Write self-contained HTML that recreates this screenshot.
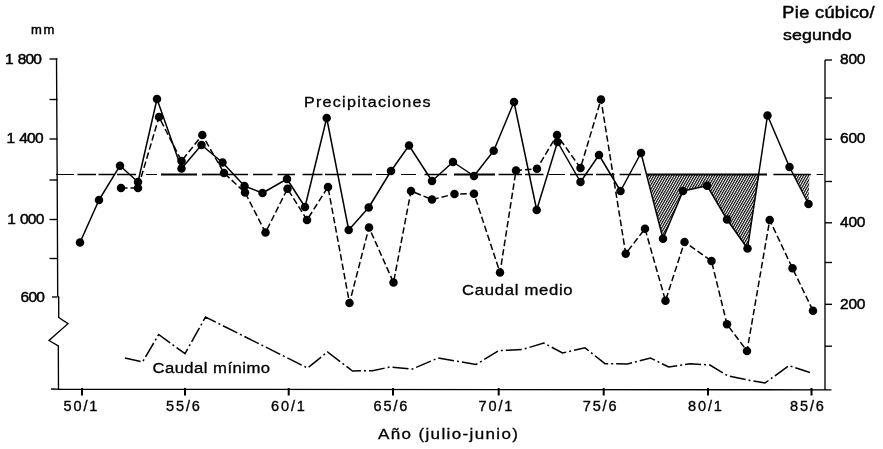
<!DOCTYPE html>
<html lang="es"><head><meta charset="utf-8"><title>Precipitaciones y caudal</title>
<style>
html,body{margin:0;padding:0;background:#fff;}
body{width:883px;height:449px;overflow:hidden;}
svg{display:block;}
text{font-family:"Liberation Sans",sans-serif;fill:#000;}
</style></head><body>
<svg width="883" height="449" viewBox="0 0 883 449">
<defs><pattern id="h" width="2.2" height="20" patternUnits="userSpaceOnUse" patternTransform="rotate(30)"><rect x="0" y="-1" width="1.15" height="22" fill="#000"/></pattern></defs>
<rect width="883" height="449" fill="#fff"/>

<polygon points="647.5,174.5 663,238.8 683,191 707,185.7 727,219.5 747.5,248.5 759.5,174.5" fill="url(#h)"/>
<polygon points="793.3,174.5 808.5,204 809.5,174.5" fill="url(#h)"/>
<g fill="none" stroke="#000" stroke-width="1.35">
<polyline points="56.5,58.3 57.2,180 57.7,296 58.7,297 58.7,317.5 68,323.7 49,340.5 58.3,346 58.5,389"/>
<polyline points="51,389 62,389.3 831.5,389.8"/>
<polyline points="825,60 825,390"/>
<line x1="49.5" y1="59" x2="57.5" y2="59"/>
<line x1="49.5" y1="99.5" x2="57.5" y2="99.5"/>
<line x1="49.5" y1="139" x2="57.5" y2="139"/>
<line x1="49.5" y1="180" x2="57.5" y2="180"/>
<line x1="49.5" y1="219.5" x2="57.5" y2="219.5"/>
<line x1="49.5" y1="258.5" x2="57.5" y2="258.5"/>
<line x1="52" y1="297" x2="57.5" y2="297"/>
<line x1="825" y1="60" x2="832" y2="60"/>
<line x1="825" y1="98" x2="832" y2="98"/>
<line x1="825" y1="139.3" x2="832" y2="139.3"/>
<line x1="825" y1="181.5" x2="832" y2="181.5"/>
<line x1="825" y1="222.8" x2="832" y2="222.8"/>
<line x1="825" y1="262.5" x2="832" y2="262.5"/>
<line x1="825" y1="304.3" x2="832" y2="304.3"/>
<line x1="825" y1="346.2" x2="832" y2="346.2"/>
</g>
<g stroke="#000" stroke-width="2">
<line x1="82" y1="388" x2="82" y2="395.5"/>
<line x1="185" y1="388" x2="185" y2="395.5"/>
<line x1="288.7" y1="388" x2="288.7" y2="395.5"/>
<line x1="393" y1="388" x2="393" y2="395.5"/>
<line x1="498.7" y1="388" x2="498.7" y2="395.5"/>
<line x1="603.7" y1="388" x2="603.7" y2="395.5"/>
<line x1="708" y1="388" x2="708" y2="395.5"/>
<line x1="811.5" y1="388" x2="811.5" y2="395.5"/>
</g>
<g stroke="#000"><line x1="56" y1="174.5" x2="74" y2="174.5" stroke-width="1"/><line x1="77.5" y1="174.5" x2="96" y2="174.5" stroke-width="1.5"/><line x1="98.5" y1="174.5" x2="115" y2="174.5" stroke-width="1.5"/><line x1="117" y1="174.5" x2="136" y2="174.5" stroke-width="1.5"/><line x1="146" y1="174.5" x2="157" y2="174.5" stroke-width="1"/><line x1="161" y1="174.5" x2="197" y2="174.5" stroke-width="2"/><line x1="202" y1="174.5" x2="224.5" y2="174.5" stroke-width="1.7"/><line x1="228" y1="174.5" x2="248" y2="174.5" stroke-width="1.5"/><line x1="253" y1="174.5" x2="272.5" y2="174.5" stroke-width="1.5"/><line x1="277.5" y1="174.5" x2="295" y2="174.5" stroke-width="1.5"/><line x1="302.5" y1="174.5" x2="322.5" y2="174.5" stroke-width="1.5"/><line x1="325" y1="174.5" x2="346" y2="174.5" stroke-width="1.5"/><line x1="352" y1="174.5" x2="372" y2="174.5" stroke-width="1.5"/><line x1="376" y1="174.5" x2="390" y2="174.5" stroke-width="1"/><line x1="401" y1="174.5" x2="416" y2="174.5" stroke-width="1"/><line x1="424.5" y1="174.5" x2="447" y2="174.5" stroke-width="1.5"/><line x1="454" y1="174.5" x2="495" y2="174.5" stroke-width="2"/><line x1="498.6" y1="174.5" x2="522" y2="174.5" stroke-width="1.5"/><line x1="525" y1="174.5" x2="543.5" y2="174.5" stroke-width="1.5"/><line x1="548.5" y1="174.5" x2="565" y2="174.5" stroke-width="1"/><line x1="570" y1="174.5" x2="593" y2="174.5" stroke-width="1.5"/><line x1="596" y1="174.5" x2="614.6" y2="174.5" stroke-width="1.5"/><line x1="619.6" y1="174.5" x2="641" y2="174.5" stroke-width="1.5"/><line x1="647" y1="174.5" x2="767" y2="174.5" stroke-width="2"/><line x1="773.4" y1="174.5" x2="810.8" y2="174.5" stroke-width="1.6"/><line x1="816.6" y1="174.5" x2="823.3" y2="174.5" stroke-width="1"/></g>
<polyline points="80,242.5 99,200 120,165.7 138,182 157,99 181.5,168.5 201.5,145 222.5,162.5 244.5,186 262.5,193 287,179 305,207 326.7,118 348.7,230 368.7,207.5 391,171 409,145.5 432,181 453,162 474,176 493.7,150.7 514,102 536.7,210 557.5,142 580.5,182 599,155 620.5,191 641,153 663,238.8 683,191 707,185.7 727,219.5 747.5,248.5 767.5,115.5 789.5,167 808.5,204" fill="none" stroke="#000" stroke-width="1.5" stroke-linejoin="round"/>
<polyline points="121,188 138,188 159,117 181.5,161 202.3,135 224,173 245,192.5 265.5,232.5 287.5,188.7 307,220 328,187 349.5,303 369,227.5 393.5,282.5 411,191 432,199.5 454.5,194 474,193.7 500,272.5 516,170.5 537,168.7 557,135 580.5,168 601,99.5 625.7,253.7 645,228.7 665.5,300.7 684.5,242 711.5,261 727,324.3 747,351 769.7,220 792.5,268.3 813,310.7" fill="none" stroke="#000" stroke-width="1.5" stroke-dasharray="6.5 3"/>
<polyline points="125,358 142.5,362 158.7,334.5 185,353.7 205.5,317 307.5,368 327.5,352 352.5,371 372.5,370.7 390,367 412.5,369 438,358 476,364.5 498.7,350.7 522.5,349.5 543.7,343 562.5,353 585,347.8 605,363.7 627.5,364 650.5,358 668.7,367 690,363.7 710,365 727.5,375.7 750,380.5 765,383 789,365.6 810,372.5" fill="none" stroke="#000" stroke-width="1.5" stroke-dasharray="16 3 2 3"/>
<g fill="#000"><circle cx="80" cy="242.5" r="4.25"/><circle cx="99" cy="200" r="4.25"/><circle cx="120" cy="165.7" r="4.25"/><circle cx="138" cy="182" r="4.25"/><circle cx="157" cy="99" r="4.25"/><circle cx="181.5" cy="168.5" r="4.25"/><circle cx="201.5" cy="145" r="4.25"/><circle cx="222.5" cy="162.5" r="4.25"/><circle cx="244.5" cy="186" r="4.25"/><circle cx="262.5" cy="193" r="4.25"/><circle cx="287" cy="179" r="4.25"/><circle cx="305" cy="207" r="4.25"/><circle cx="326.7" cy="118" r="4.25"/><circle cx="348.7" cy="230" r="4.25"/><circle cx="368.7" cy="207.5" r="4.25"/><circle cx="391" cy="171" r="4.25"/><circle cx="409" cy="145.5" r="4.25"/><circle cx="432" cy="181" r="4.25"/><circle cx="453" cy="162" r="4.25"/><circle cx="474" cy="176" r="4.25"/><circle cx="493.7" cy="150.7" r="4.25"/><circle cx="514" cy="102" r="4.25"/><circle cx="536.7" cy="210" r="4.25"/><circle cx="557.5" cy="142" r="4.25"/><circle cx="580.5" cy="182" r="4.25"/><circle cx="599" cy="155" r="4.25"/><circle cx="620.5" cy="191" r="4.25"/><circle cx="641" cy="153" r="4.25"/><circle cx="663" cy="238.8" r="4.25"/><circle cx="683" cy="191" r="4.25"/><circle cx="707" cy="185.7" r="4.25"/><circle cx="727" cy="219.5" r="4.25"/><circle cx="747.5" cy="248.5" r="4.25"/><circle cx="767.5" cy="115.5" r="4.25"/><circle cx="789.5" cy="167" r="4.25"/><circle cx="808.5" cy="204" r="4.25"/><circle cx="121" cy="188" r="4.25"/><circle cx="138" cy="188" r="4.25"/><circle cx="159" cy="117" r="4.25"/><circle cx="181.5" cy="161" r="4.25"/><circle cx="202.3" cy="135" r="4.25"/><circle cx="224" cy="173" r="4.25"/><circle cx="245" cy="192.5" r="4.25"/><circle cx="265.5" cy="232.5" r="4.25"/><circle cx="287.5" cy="188.7" r="4.25"/><circle cx="307" cy="220" r="4.25"/><circle cx="328" cy="187" r="4.25"/><circle cx="349.5" cy="303" r="4.25"/><circle cx="369" cy="227.5" r="4.25"/><circle cx="393.5" cy="282.5" r="4.25"/><circle cx="411" cy="191" r="4.25"/><circle cx="432" cy="199.5" r="4.25"/><circle cx="454.5" cy="194" r="4.25"/><circle cx="474" cy="193.7" r="4.25"/><circle cx="500" cy="272.5" r="4.25"/><circle cx="516" cy="170.5" r="4.25"/><circle cx="537" cy="168.7" r="4.25"/><circle cx="557" cy="135" r="4.25"/><circle cx="580.5" cy="168" r="4.25"/><circle cx="601" cy="99.5" r="4.25"/><circle cx="625.7" cy="253.7" r="4.25"/><circle cx="645" cy="228.7" r="4.25"/><circle cx="665.5" cy="300.7" r="4.25"/><circle cx="684.5" cy="242" r="4.25"/><circle cx="711.5" cy="261" r="4.25"/><circle cx="727" cy="324.3" r="4.25"/><circle cx="747" cy="351" r="4.25"/><circle cx="769.7" cy="220" r="4.25"/><circle cx="792.5" cy="268.3" r="4.25"/><circle cx="813" cy="310.7" r="4.25"/></g>
<text x="31" y="33.7" style="font-size:13px;letter-spacing:1.6px;font-weight:normal;stroke:#000;stroke-width:0.5px;">mm</text>
<text x="5" y="64.3" style="font-size:15.5px;letter-spacing:-0.75px;font-weight:normal;stroke:#000;stroke-width:0.5px;word-spacing:1.2px;">1 800</text>
<text x="6.6" y="143.3" style="font-size:15.5px;letter-spacing:-0.75px;font-weight:normal;stroke:#000;stroke-width:0.5px;word-spacing:1.2px;">1 400</text>
<text x="7.3" y="223.8" style="font-size:15.5px;letter-spacing:-0.75px;font-weight:normal;stroke:#000;stroke-width:0.5px;word-spacing:1.2px;">1 000</text>
<text x="20.6" y="302" style="font-size:15.5px;letter-spacing:-0.75px;font-weight:normal;stroke:#000;stroke-width:0.5px;word-spacing:1.2px;">600</text>
<text x="840" y="63.5" style="font-size:15.5px;letter-spacing:-0.2px;font-weight:normal;stroke:#000;stroke-width:0.5px;">800</text>
<text x="840" y="143" style="font-size:15.5px;letter-spacing:-0.2px;font-weight:normal;stroke:#000;stroke-width:0.5px;">600</text>
<text x="840" y="227.3" style="font-size:15.5px;letter-spacing:-0.2px;font-weight:normal;stroke:#000;stroke-width:0.5px;">400</text>
<text x="840" y="309" style="font-size:15.5px;letter-spacing:-0.2px;font-weight:normal;stroke:#000;stroke-width:0.5px;">200</text>
<text x="63.5" y="411" style="font-size:14.5px;letter-spacing:1.9px;font-weight:normal;stroke:#000;stroke-width:0.35px;">50/1</text>
<text x="166" y="411" style="font-size:14.5px;letter-spacing:1.9px;font-weight:normal;stroke:#000;stroke-width:0.35px;">55/6</text>
<text x="271" y="411" style="font-size:14.5px;letter-spacing:1.9px;font-weight:normal;stroke:#000;stroke-width:0.35px;">60/1</text>
<text x="373.5" y="411" style="font-size:14.5px;letter-spacing:1.9px;font-weight:normal;stroke:#000;stroke-width:0.35px;">65/6</text>
<text x="478.5" y="411" style="font-size:14.5px;letter-spacing:1.9px;font-weight:normal;stroke:#000;stroke-width:0.35px;">70/1</text>
<text x="582.7" y="411" style="font-size:14.5px;letter-spacing:1.9px;font-weight:normal;stroke:#000;stroke-width:0.35px;">75/6</text>
<text x="688" y="411" style="font-size:14.5px;letter-spacing:1.9px;font-weight:normal;stroke:#000;stroke-width:0.35px;">80/1</text>
<text x="790" y="411" style="font-size:14.5px;letter-spacing:1.9px;font-weight:normal;stroke:#000;stroke-width:0.35px;">85/6</text>
<text transform="translate(304,107) scale(1.15,1)" style="font-size:14px;letter-spacing:1.09px;stroke:#000;stroke-width:0.3px;">Precipitaciones</text>
<text transform="translate(462,295) scale(1.15,1)" style="font-size:14.5px;letter-spacing:0.62px;stroke:#000;stroke-width:0.3px;">Caudal medio</text>
<text transform="translate(152.4,372.5) scale(1.15,1)" style="font-size:14.5px;letter-spacing:0.41px;stroke:#000;stroke-width:0.3px;">Caudal mínimo</text>
<text transform="translate(378,438.7) scale(1.15,1)" style="font-size:14.8px;letter-spacing:1.18px;stroke:#000;stroke-width:0.3px;">Año (julio-junio)</text>
<text transform="translate(782.3,18.4) scale(1.15,1)" style="font-size:15.8px;letter-spacing:0.3px;stroke:#000;stroke-width:0.45px;">Pie cúbico/</text>
<text transform="translate(783,39.6) scale(1.15,1)" style="font-size:15.5px;letter-spacing:0.05px;stroke:#000;stroke-width:0.45px;">segundo</text>
</svg></body></html>
